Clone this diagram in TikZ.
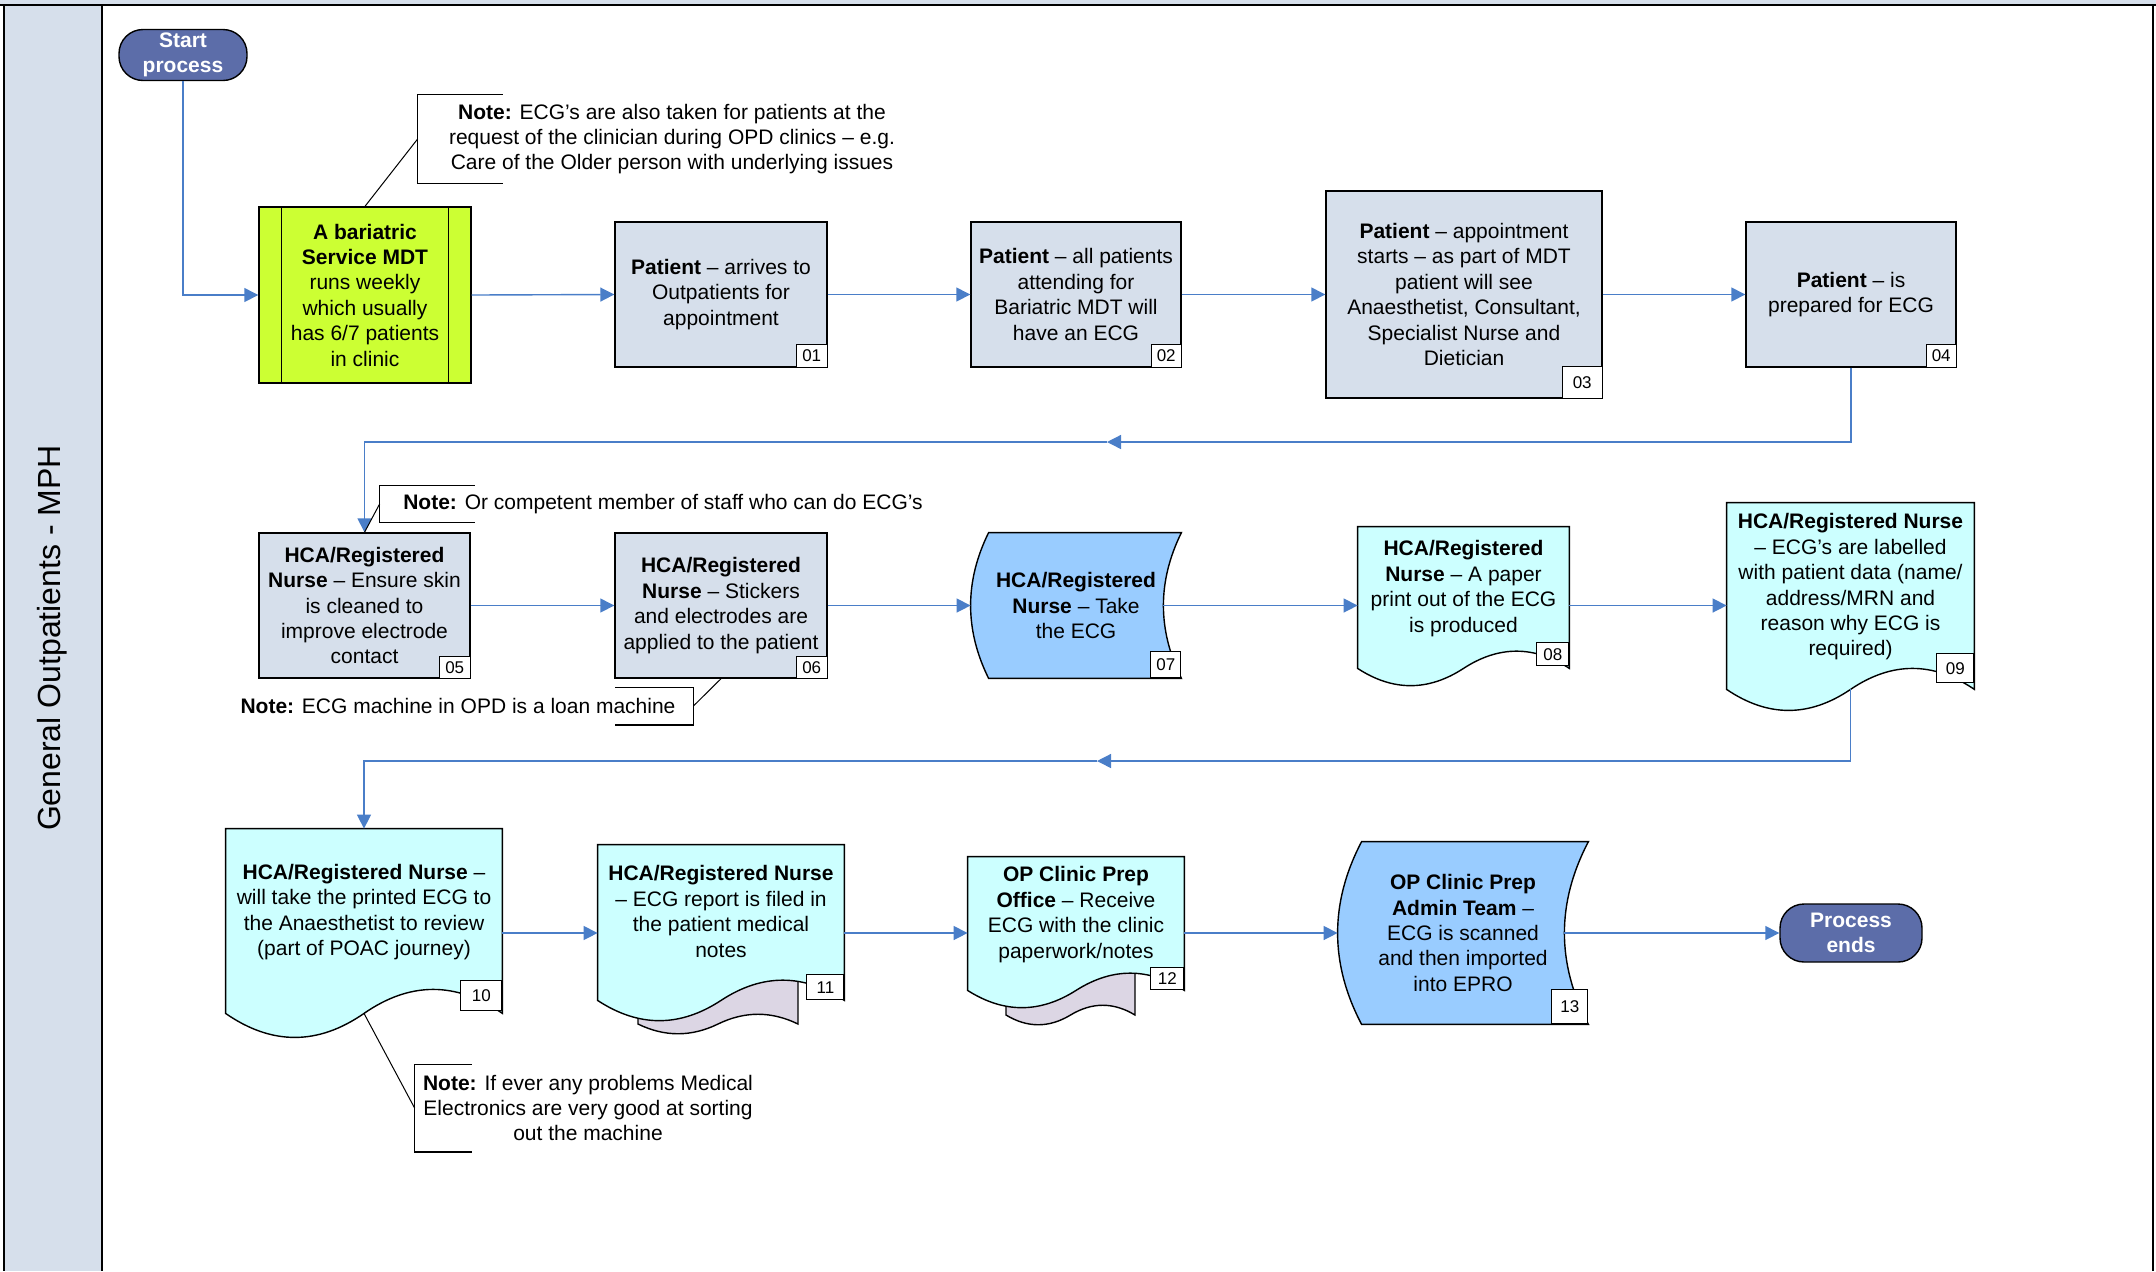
\documentclass[tikz,border=0pt]{standalone}
\usepackage{fontspec}
\setmainfont{Liberation Sans}
\usepackage{xcolor}
\usepackage{tikz}
\usetikzlibrary{positioning,arrows.meta,calc,backgrounds}

\definecolor{lane}{HTML}{D6DFEB}
\definecolor{procfill}{HTML}{D6DFEB}
\definecolor{greenbox}{HTML}{CCFF33}
\definecolor{docfill}{HTML}{CCFFFF}
\definecolor{storefill}{HTML}{99CCFF}
\definecolor{backpage}{HTML}{DCD6E4}
\definecolor{termfill}{HTML}{5C6DA9}
\definecolor{flowblue}{HTML}{4A7EC8}

\newcommand{\boxfont}{\fontsize{10.5}{12.7}\selectfont}
\newcommand{\tagfont}{\fontsize{8.5}{10}\selectfont}
% empty last line, keeps the text clear of the wave
\newcommand{\wavegap}{\\[-1.5pt]\mbox{}}

\tikzset{
  proc/.style={rectangle, draw=black, fill=procfill, line width=0.7pt, align=center, inner sep=0pt, font=\boxfont},
  mdt/.style={proc, fill=greenbox},
  doc/.style={rectangle, align=center, inner sep=0pt, font=\boxfont},
  store/.style={doc},
  term/.style={rectangle, rounded corners=12pt, draw=black, fill=termfill, text=white, align=center, inner sep=0pt, line width=0.7pt, font=\boxfont\bfseries},
  tag/.style={rectangle, draw=black, fill=white, anchor=south east, inner sep=0pt, minimum width=15.5pt, minimum height=11.5pt, line width=0.5pt, font=\tagfont},
  flow/.style={draw=flowblue, line width=0.7pt, -{Triangle[length=7pt,width=7pt]}},
  note/.style={align=center, inner sep=0pt, font=\boxfont},
  brk/.style={draw=black, line width=0.6pt},
  lead/.style={draw=black, line width=0.5pt},
  docline/.style={draw=black, line width=0.7pt}
}

% document outline: nw, ne, se, sw, wave control, fill
\newcommand{\docoutline}[6]{%
  \path[docline, fill=#6] (#1) -- (#2) -- (#3)
    .. controls ($(#3)!1/6!(#4)+(0,-#5)$) and ($(#3)!1/3!(#4)+(0,-#5)$) .. ($(#3)!0.5!(#4)$)
    .. controls ($(#3)!2/3!(#4)+(0,#5)$) and ($(#3)!5/6!(#4)+(0,#5)$) .. (#4) -- cycle;}

% stored data outline: node, depth, control
\newcommand{\storeoutline}[3]{%
  \path[docline, fill=storefill] ($(#1.north west)+(#2,0)$) -- (#1.north east)
    .. controls ($(#1.north east)!1/3!(#1.south east)+(-#3,0)$) and ($(#1.north east)!2/3!(#1.south east)+(-#3,0)$) .. (#1.south east)
    -- ($(#1.south west)+(#2,0)$)
    .. controls ($(#1.south west)!1/3!(#1.north west)+({#2-#3},0)$) and ($(#1.south west)!2/3!(#1.north west)+({#2-#3},0)$) .. ($(#1.north west)+(#2,0)$) -- cycle;}

\begin{document}
\begin{tikzpicture}[x=0.5pt, y=-0.5pt]
  \useasboundingbox (0,0) rectangle (2156,1271);

  % Swimlane frame
  \fill[lane] (0,0) rectangle (2156,5);
  \fill[lane] (4,5) rectangle (102,1271);
  \draw[line width=1pt] (0,5) -- (2156,5);
  \draw[line width=1pt] (4,5) -- (4,1271);
  \draw[line width=1pt] (102,5) -- (102,1271);
  \draw[line width=1pt] (2153,5) -- (2153,1271);
  \node[rotate=90, font=\fontsize{16}{19}\selectfont] (lanename) at (52,638) {General Outpatients - MPH};

  % Start
  \node[term, minimum width=64pt, minimum height=25.5pt] (start) at (183,55) {Start\\process};

  % Row 1
  \node[mdt, minimum width=106pt, minimum height=88pt] (mdt) at (365,295)
    {\textbf{A bariatric}\\\textbf{Service MDT}\\runs weekly\\which usually\\has 6/7 patients\\in clinic};
  \draw[line width=0.7pt] ([xshift=11.5pt]mdt.north west) -- ([xshift=11.5pt]mdt.south west);
  \draw[line width=0.7pt] ([xshift=-11.5pt]mdt.north east) -- ([xshift=-11.5pt]mdt.south east);
  \node[proc, minimum width=106pt, minimum height=72.5pt] (b01) at (721,294.5)
    {\textbf{Patient} – arrives to\\Outpatients for\\appointment};
  \node[proc, minimum width=105pt, minimum height=72.5pt] (b02) at (1076,294.5)
    {\textbf{Patient} – all patients\\attending for\\Bariatric MDT will\\have an ECG};
  \node[proc, minimum width=138pt, minimum height=103.5pt] (b03) at (1464,294.5)
    {\textbf{Patient} – appointment\\starts – as part of MDT\\patient will see\\Anaesthetist, Consultant,\\Specialist Nurse and\\Dietician};
  \node[proc, minimum width=105pt, minimum height=72.5pt] (b04) at (1851,294.5)
    {\textbf{Patient} – is\\prepared for ECG};

  % Row 2
  \node[proc, minimum width=105.5pt, minimum height=72.5pt] (b05) at (364.5,605.5)
    {\textbf{HCA/Registered}\\\textbf{Nurse} – Ensure skin\\is cleaned to\\improve electrode\\contact};
  \node[proc, minimum width=106pt, minimum height=72.5pt] (b06) at (721,605.5)
    {\textbf{HCA/Registered}\\\textbf{Nurse} – Stickers\\and electrodes are\\applied to the patient};
  \node[store, minimum width=105pt, minimum height=72.5pt] (s07) at (1076,605.5)
    {\textbf{HCA/Registered}\\\textbf{Nurse} – Take\\the ECG};
  \node[doc, minimum width=105.5pt, minimum height=70.5pt] (d08) at (1463.5,597.5)
    {\textbf{HCA/Registered}\\\textbf{Nurse} – A paper\\print out of the ECG\\is produced\wavegap};
  \node[doc, minimum width=123.5pt, minimum height=93pt] (d09) at (1850.5,596)
    {\textbf{HCA/Registered Nurse}\\– ECG’s are labelled\\with patient data (name/\\address/MRN and\\reason why ECG is\\required)\wavegap};

  % Row 3
  \node[doc, minimum width=138pt, minimum height=92pt] (d10) at (364,921)
    {\textbf{HCA/Registered Nurse} –\\will take the printed ECG to\\the Anaesthetist to review\\(part of POAC journey)\wavegap};
  \node[doc, minimum width=123pt, minimum height=77.5pt] (d11) at (721,922.5)
    {\textbf{HCA/Registered Nurse}\\– ECG report is filed in\\the patient medical\\notes\wavegap};
  \node[doc, minimum width=108pt, minimum height=66.5pt] (d12) at (1076,923.5)
    {\textbf{OP Clinic Prep}\\\textbf{Office} – Receive\\ECG with the clinic\\paperwork/notes\wavegap};
  \node[store, minimum width=125pt, minimum height=91pt] (s13) at (1463,933)
    {\textbf{OP Clinic Prep}\\\textbf{Admin Team} –\\ECG is scanned\\and then imported\\into EPRO};
  \node[term, minimum width=71pt, minimum height=29pt] (finish) at (1851,933) {Process\\ends};

  % Shape outlines behind the texts
  \begin{scope}[on background layer]
    \storeoutline{s07}{18}{24}
    \storeoutline{s13}{24}{32}
    \docoutline{d08.north west}{d08.north east}{d08.south east}{d08.south west}{23}{docfill}
    \docoutline{d09.north west}{d09.north east}{d09.south east}{d09.south west}{28}{docfill}
    \docoutline{d10.north west}{d10.north east}{d10.south east}{d10.south west}{32}{docfill}
    \docoutline{638,930}{798,930}{798,1024}{638,1024}{13}{backpage}
    \docoutline{d11.north west}{d11.north east}{d11.south east}{d11.south west}{27}{docfill}
    \docoutline{1006,940}{1135,940}{1135,1015}{1006,1015}{13}{backpage}
    \docoutline{d12.north west}{d12.north east}{d12.south east}{d12.south west}{23}{docfill}
  \end{scope}

  % Step numbers
  \node[tag] (t01) at (b01.south east) {01};
  \node[tag, minimum width=15pt] (t02) at (b02.south east) {02};
  \node[tag, minimum width=20pt, minimum height=16pt] (t03) at (b03.south east) {03};
  \node[tag, minimum width=15pt] (t04) at (b04.south east) {04};
  \node[tag, minimum height=11pt] (t05) at (b05.south east) {05};
  \node[tag, minimum height=11pt] (t06) at (b06.south east) {06};
  \node[tag, minimum width=15pt, minimum height=13pt] (t07) at (s07.south east) {07};
  \node[tag, minimum width=16pt] (t08) at ([yshift=1pt]d08.south east) {08};
  \node[tag, minimum width=18.5pt, minimum height=14.5pt] (t09) at ([yshift=3pt]d09.south east) {09};
  \node[tag, minimum width=20.5pt, minimum height=15pt] (t10) at ([yshift=1pt]d10.south east) {10};
  \node[tag, minimum width=18.5pt, minimum height=12.5pt] (t11) at (d11.south east) {11};
  \node[tag, minimum width=16.5pt, minimum height=11pt] (t12) at (d12.south east) {12};
  \node[tag, minimum width=18pt, minimum height=17pt] (t13) at (s13.south east) {13};

  % Turn points on the return lines
  \coordinate (m1) at (1107,442);
  \coordinate (m2) at (1097,761);

  % Flow
  \draw[flow] (start.south) |- (mdt.west);
  \draw[flow] (mdt.east) -- (b01.west);
  \draw[flow] (b01) -- (b02);
  \draw[flow] (b02) -- (b03);
  \draw[flow] (b03) -- (b04);
  \draw[flow] (b04.south) |- (m1);
  \draw[flow] (m1) -| (b05.north);
  \draw[flow] (b05) -- (b06);
  \draw[flow] (b06) -- (s07);
  \draw[flow] ([xshift=-9pt]s07.east) -- (s07.east -| d08.west);
  \draw[flow] (s07.east -| d08.east) -- (s07.east -| d09.west);
  \draw[flow] (d09.south) |- (m2);
  \draw[flow] (m2) -| (d10.north);
  \draw[flow] (d10.east |- s13.west) -- (d11.west |- s13.west);
  \draw[flow] (d11.east |- s13.west) -- (d12.west |- s13.west);
  \draw[flow] (d12.east |- s13.west) -- (s13.west);
  \draw[flow] ([xshift=-12pt]s13.east) -- (finish.west);

  % Notes
  \node[note, minimum width=254pt, minimum height=44pt] (n1) at (672,139)
    {\textbf{Note:} ECG’s are also taken for patients at the\\request of the clinician during OPD clinics – e.g.\\Care of the Older person with underlying issues};
  \draw[brk] ([xshift=42.5pt]n1.north west) -- (n1.north west) -- (n1.south west) -- ([xshift=42.5pt]n1.south west);
  \draw[lead] (n1.west) -- (mdt.north);

  \node[note, minimum width=283pt, minimum height=18pt] (n2) at (663,504)
    {\textbf{Note:} Or competent member of staff who can do ECG’s};
  \draw[brk] ([xshift=47.5pt]n2.north west) -- (n2.north west) -- (n2.south west) -- ([xshift=47.5pt]n2.south west);
  \draw[lead] (n2.west) -- (b05.north);

  \node[note, minimum width=235pt, minimum height=18.5pt] (n3) at (458,706)
    {\textbf{Note:} ECG machine in OPD is a loan machine};
  \draw[brk] ([xshift=-39pt]n3.north east) -- (n3.north east) -- (n3.south east) -- ([xshift=-39pt]n3.south east);
  \draw[lead] (n3.east) -- (b06.south);

  \node[note, minimum width=173pt, minimum height=43.5pt] (n4) at (588,1108)
    {\textbf{Note:} If ever any problems Medical\\Electronics are very good at sorting\\out the machine};
  \draw[brk] ([xshift=28.5pt]n4.north west) -- (n4.north west) -- (n4.south west) -- ([xshift=28.5pt]n4.south west);
  \draw[lead] (n4.west) -- (d10.south);
\end{tikzpicture}
\end{document}
